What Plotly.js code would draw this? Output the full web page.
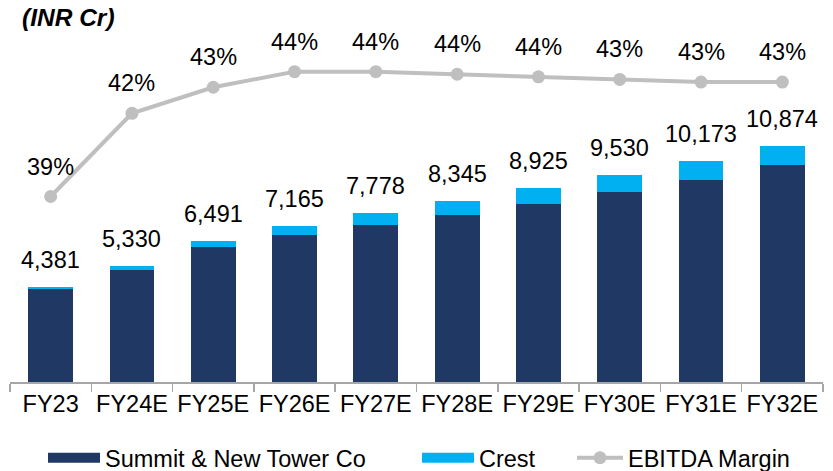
<!DOCTYPE html>
<html><head><meta charset="utf-8">
<script src="https://cdn.plot.ly/plotly-3.0.1.min.js"></script>
<style>html,body{margin:0;padding:0;background:#fff}#chart{width:833px;height:471px}</style>
</head><body><div id="chart"></div>
<script>
const categories = ['FY23','FY24E','FY25E','FY26E','FY27E','FY28E','FY29E','FY30E','FY31E','FY32E'];
const summit = [4288, 5158, 6226, 6777, 7220, 7708, 8213, 8739, 9322, 10004];
const crest = [93, 172, 265, 388, 558, 637, 712, 791, 851, 870];
const totalLabels = ['4,381','5,330','6,491','7,165','7,778','8,345','8,925','9,530','10,173','10,874'];
const margins = [39.2, 42.4, 43.4, 44.0, 44.0, 43.9, 43.8, 43.7, 43.6, 43.6];
const marginLabels = ['39%','42%','43%','44%','44%','44%','44%','43%','43%','43%'];

const NAVY = '#203864', CYAN = '#00B0F0', GREY = '#BFBFBF';
const FONT = 'Liberation Sans, Arial, sans-serif';
const FS = 23.5;

const traces = [
  {type:'bar', x:categories, y:summit, name:'Summit & New Tower Co', marker:{color:NAVY}, showlegend:false, hoverinfo:'skip'},
  {type:'bar', x:categories, y:crest, name:'Crest', marker:{color:CYAN}, showlegend:false, hoverinfo:'skip'},
  {type:'scatter', mode:'lines+markers', x:categories, y:margins, yaxis:'y2', name:'EBITDA Margin',
   line:{color:GREY, width:4}, marker:{color:GREY, size:13}, showlegend:true, legend:'legend3', hoverinfo:'skip'},
  {type:'scatter', mode:'lines', x:[null], y:[null], name:'Summit & New Tower Co', line:{color:NAVY, width:13}, legend:'legend', showlegend:true},
  {type:'scatter', mode:'lines', x:[null], y:[null], name:'Crest', line:{color:CYAN, width:13}, legend:'legend2', showlegend:true}
];

const annotations = [];
categories.forEach((c,i)=>{
  annotations.push({x:c, y:summit[i]+crest[i], xref:'x', yref:'y', text:totalLabels[i], showarrow:false,
    yanchor:'middle', yshift:27, font:{family:FONT, size:FS, color:'#000'}});
  annotations.push({x:c, y:margins[i], xref:'x', yref:'y2', text:marginLabels[i], showarrow:false,
    yanchor:'middle', yshift:30, font:{family:FONT, size:FS, color:'#000'}});
});
annotations.push({xref:'paper', yref:'paper', x:0.012, y:0.981, xanchor:'left', yanchor:'middle',
  text:'<b><i>(INR Cr)</i></b>', showarrow:false, font:{family:FONT, size:24.5, color:'#000'}});

const legendFont = {family:FONT, size:FS, color:'#000'};
const LY = 1 - 458/471;
const layout = {
  width:833, height:471,
  margin:{l:10, r:10, t:10, b:89, pad:0, autoexpand:false},
  paper_bgcolor:'#fff', plot_bgcolor:'#fff',
  barmode:'stack', bargap:0.45,
  font:{family:FONT, size:FS, color:'#000'},
  xaxis:{type:'category', range:[-0.5, 9.5], automargin:false, tickangle:0, showline:true, linecolor:'#A6A6A6', linewidth:1.5, ticks:'outside', tickson:'boundaries',
    ticklen:8, tickcolor:'#A6A6A6', tickwidth:1.5, tickfont:{family:FONT, size:FS, color:'#000'}, showgrid:false, zeroline:false},
  yaxis:{range:[0,17127], visible:false, showgrid:false, zeroline:false},
  yaxis2:{range:[32.07,46.37], overlaying:'y', visible:false, showgrid:false, zeroline:false},
  legend:{orientation:'h', xref:'container', yref:'container', x:43/833, y:LY, xanchor:'left', yanchor:'middle', itemwidth:52, font:legendFont, bgcolor:'rgba(0,0,0,0)'},
  legend2:{orientation:'h', xref:'container', yref:'container', x:417/833, y:LY, xanchor:'left', yanchor:'middle', itemwidth:52, font:legendFont, bgcolor:'rgba(0,0,0,0)'},
  legend3:{orientation:'h', xref:'container', yref:'container', x:572/833, y:LY, xanchor:'left', yanchor:'middle', itemwidth:46, font:legendFont, bgcolor:'rgba(0,0,0,0)'},
  annotations:annotations
};
Plotly.newPlot('chart', traces, layout, {displayModeBar:false, staticPlot:true});
</script></body></html>
